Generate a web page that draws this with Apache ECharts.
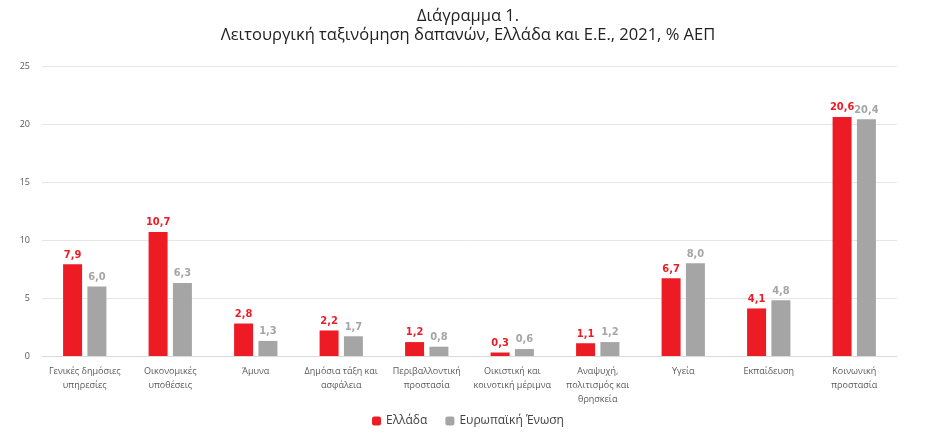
<!DOCTYPE html>
<html lang="el">
<head>
  <meta charset="UTF-8">
  <title>Διάγραμμα 1</title>
  <style type="text/css">
    * {
      margin: 0;
      padding: 0;
    }
    html, body {
      width: 100%;
      height: 100%;
      overflow: hidden;
      background: #ffffff;
    }
    #main {
      width: 936px;
      height: 435px;
    }
  </style>
  <script type="text/javascript" src="https://cdn.jsdelivr.net/npm/echarts@6/dist/echarts.min.js"></script>
</head>
<body>
<div id="main"></div>
<script type="text/javascript">
  var categories = [
    'Γενικές δημόσιες\nυπηρεσίες',
    'Οικονομικές\nυποθέσεις',
    'Άμυνα',
    'Δημόσια τάξη και\nασφάλεια',
    'Περιβαλλοντική\nπροστασία',
    'Οικιστική και\nκοινοτική μέριμνα',
    'Αναψυχή,\nπολιτισμός και\nθρησκεία',
    'Υγεία',
    'Εκπαίδευση',
    'Κοινωνική\nπροστασία'
  ];
  var greece = [7.9, 10.7, 2.8, 2.2, 1.2, 0.3, 1.1, 6.7, 4.1, 20.6];
  var eu = [6.0, 6.3, 1.3, 1.7, 0.8, 0.6, 1.2, 8.0, 4.8, 20.4];
  var seriesNames = ['Ελλάδα', 'Ευρωπαϊκή Ένωση'];

  function fmt(p) {
    return p.value.toFixed(1).replace('.', ',');
  }

  var myChart = echarts.init(document.getElementById('main'));
  var option = {
    animation: false,
    textStyle: { fontFamily: 'Open Sans' },
    title: {
      text: 'Διάγραμμα 1.\nΛειτουργική ταξινόμηση δαπανών, Ελλάδα και Ε.Ε., 2021, % ΑΕΠ',
      left: 'center',
      top: 2,
      textStyle: {
        fontSize: 16.5,
        fontWeight: 'normal',
        color: '#222222',
        lineHeight: 19,
        fontFamily: 'Open Sans'
      }
    },
    legend: {
      bottom: 3,
      left: 'center',
      itemWidth: 9,
      itemHeight: 9,
      itemGap: 18,
      textStyle: { fontSize: 12, color: '#404040' },
      data: seriesNames
    },
    grid: {
      left: 42,
      right: 39,
      top: 66,
      bottom: 79
    },
    xAxis: {
      type: 'category',
      data: categories,
      axisLine: { lineStyle: { color: '#d9d9d9' } },
      axisTick: { show: false },
      axisLabel: {
        interval: 0,
        fontSize: 9,
        color: '#595959',
        lineHeight: 14,
        margin: 8
      }
    },
    yAxis: {
      type: 'value',
      min: 0,
      max: 25,
      interval: 5,
      axisLine: { show: false },
      axisTick: { show: false },
      splitLine: { lineStyle: { color: '#e6e6e6' } },
      axisLabel: { fontSize: 9, color: '#595959', margin: 12 }
    },
    series: [
      {
        name: seriesNames[0],
        type: 'bar',
        data: greece,
        barWidth: 19,
        barGap: '28%',
        itemStyle: { color: '#ED1C24' },
        label: {
          show: true,
          position: 'top',
          distance: 4,
          formatter: fmt,
          fontSize: 11,
          fontWeight: 'bold',
          color: '#ED1C24',
          fontFamily: 'DejaVu Sans Condensed'
        }
      },
      {
        name: seriesNames[1],
        type: 'bar',
        data: eu,
        barWidth: 19,
        itemStyle: { color: '#A5A5A5' },
        label: {
          show: true,
          position: 'top',
          distance: 4,
          formatter: fmt,
          fontSize: 11,
          fontWeight: 'bold',
          color: '#A5A5A5',
          fontFamily: 'DejaVu Sans Condensed'
        }
      }
    ]
  };
  myChart.setOption(option);
</script>
</body>
</html>
